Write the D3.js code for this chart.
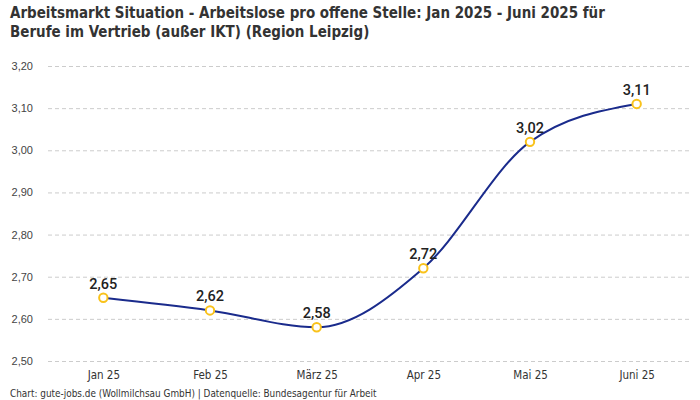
<!DOCTYPE html>
<html><head><meta charset="utf-8">
<script src="https://cdn.jsdelivr.net/npm/d3@7"></script>
<style>body{margin:0;background:#fff}svg{display:block}</style>
</head><body>
<svg id="c" width="700" height="400"></svg>
<script>
const categories = ["Jan 25","Feb 25","März 25","Apr 25","Mai 25","Juni 25"];
const values = [2.65, 2.62, 2.58, 2.72, 3.02, 3.11];
const yTicks = [2.5, 2.6, 2.7, 2.8, 2.9, 3.0, 3.1, 3.2];
const titleLines = ["Arbeitsmarkt Situation - Arbeitslose pro offene Stelle: Jan 2025 - Juni 2025 für","Berufe im Vertrieb (außer IKT) (Region Leipzig)"];
const footer = "Chart: gute-jobs.de (Wollmilchsau GmbH) | Datenquelle: Bundesagentur für Arbeit";

const svg = d3.select("#c");
const condensed = "'DejaVu Sans Condensed','Liberation Sans Narrow',Arial,sans-serif";
const fmt = v => d3.format(".2f")(v).replace(".", ",");

function fitWidth(sel, target, start) {
  sel.each(function(){
    const n = this; let fs = start;
    d3.select(n).attr("font-size", fs);
    const w = n.getComputedTextLength();
    if (w > 0) { fs = fs * target / w; d3.select(n).attr("font-size", fs); }
  });
}

const x = d3.scalePoint().domain(categories).range([50, 690]).padding(0.5);
const y = d3.scaleLinear().domain([2.5, 3.2]).range([361, 66]);

const t1 = svg.append("text").attr("x", 10).attr("y", 18)
  .attr("font-family", condensed).attr("font-weight","bold")
  .attr("fill", "#333").text(titleLines[0]);
fitWidth(t1, 595, 16);
const fsTitle = +t1.attr("font-size");
svg.append("text").attr("x", 10).attr("y", 36.5)
  .attr("font-family", condensed).attr("font-weight","bold").attr("font-size", fsTitle)
  .attr("fill", "#333").text(titleLines[1]);

const yAxis = svg.append("g").attr("transform","translate(48,0)")
  .call(d3.axisLeft(y).tickValues(yTicks).tickSize(-642).tickFormat(fmt).tickPadding(15));
yAxis.select(".domain").remove();
yAxis.selectAll(".tick line").attr("stroke","#ccc").attr("stroke-dasharray","4,3");
yAxis.selectAll(".tick text").attr("font-family","'Liberation Sans',Arial,sans-serif").attr("font-size",11).attr("fill","#444");

const xAxis = svg.append("g").attr("transform","translate(0,361)")
  .call(d3.axisBottom(x).tickSize(0).tickPadding(10));
xAxis.select(".domain").remove();
xAxis.selectAll(".tick text").attr("font-family",condensed).attr("font-size",11.5).attr("fill","#333");

const data = categories.map((c,i)=>({c, v: values[i]}));
svg.append("path").datum(data)
  .attr("d", d3.line().x(d=>x(d.c)).y(d=>y(d.v)).curve(d3.curveMonotoneX))
  .attr("fill","none").attr("stroke","#1a2b8c").attr("stroke-width",2);

svg.selectAll("circle.pt").data(data).join("circle")
  .attr("cx", d=>x(d.c)).attr("cy", d=>y(d.v)).attr("r", 4.2)
  .attr("fill","#fff").attr("stroke","#f9c21b").attr("stroke-width",2);

svg.selectAll("text.lbl").data(data).join("text")
  .attr("x", d=>x(d.c)).attr("y", d=>y(d.v)-9).attr("text-anchor","middle")
  .attr("font-family","Roboto,'Liberation Sans',Arial,sans-serif").attr("font-weight","500").attr("font-size",14.5)
  .attr("fill","#222").text(d=>fmt(d.v));

const ft = svg.append("text").attr("x",10).attr("y",397)
  .attr("font-family",condensed).attr("fill","#333").text(footer);
fitWidth(ft, 367, 10);
</script>
</body></html>
